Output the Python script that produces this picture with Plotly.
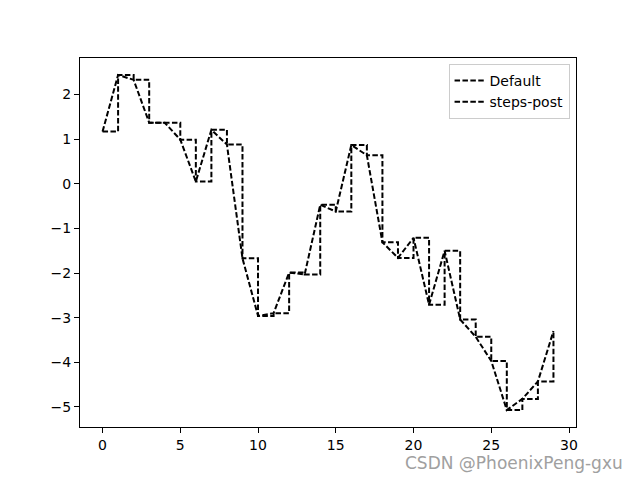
import plotly.graph_objects as go

x_vals = list(range(30))
y_vals = [1.17, 2.44, 2.33, 1.37, 1.37, 0.99, 0.05, 1.21, 0.88, -1.67,
          -2.96, -2.90, -1.99, -2.03, -0.47, -0.62, 0.87, 0.64, -1.31, -1.66,
          -1.21, -2.71, -1.50, -3.04, -3.43, -3.97, -5.07, -4.82, -4.43, -3.30]
series_names = ["Default", "steps-post"]
x_ticks = [0, 5, 10, 15, 20, 25, 30]
y_ticks = [-5, -4, -3, -2, -1, 0, 1, 2]

dash = "5.5px,2.4px"
fig = go.Figure()
fig.add_trace(go.Scatter(x=x_vals, y=y_vals, mode="lines", name=series_names[0],
                         line=dict(color="black", width=2, dash=dash, shape="linear")))
fig.add_trace(go.Scatter(x=x_vals, y=y_vals, mode="lines", name=series_names[1],
                         line=dict(color="black", width=2, dash=dash, shape="hv")))

axis_common = dict(showgrid=False, zeroline=False, showline=True, linecolor="black",
                   linewidth=1, mirror=True, ticks="outside", ticklen=5, tickwidth=1,
                   tickcolor="black", automargin=False,
                   tickfont=dict(family="DejaVu Sans", size=14, color="black"))
fig.update_xaxes(range=[-1.45, 30.45], tickvals=x_ticks, **axis_common)
fig.update_yaxes(range=[-5.45, 2.82], tickvals=y_ticks, **axis_common)

fig.update_layout(
    width=632, height=472,
    margin=dict(l=72, r=64, t=50, b=53, autoexpand=False),
    plot_bgcolor="white", paper_bgcolor="white",
    showlegend=True,
    legend=dict(x=0.987, y=0.984, xanchor="right", yanchor="top",
                bgcolor="white", bordercolor="#cccccc", borderwidth=1,
                font=dict(family="DejaVu Sans", size=14, color="black"),
                tracegroupgap=0, itemwidth=30),
    annotations=[dict(text="CSDN @PhoenixPeng-gxu", xref="paper", yref="paper",
                      x=1.099, y=-0.097, xanchor="right", yanchor="middle", showarrow=False,
                      font=dict(family="DejaVu Sans", size=17, color="#a0a0a0"))],
)

fig.write_html("out.html")
